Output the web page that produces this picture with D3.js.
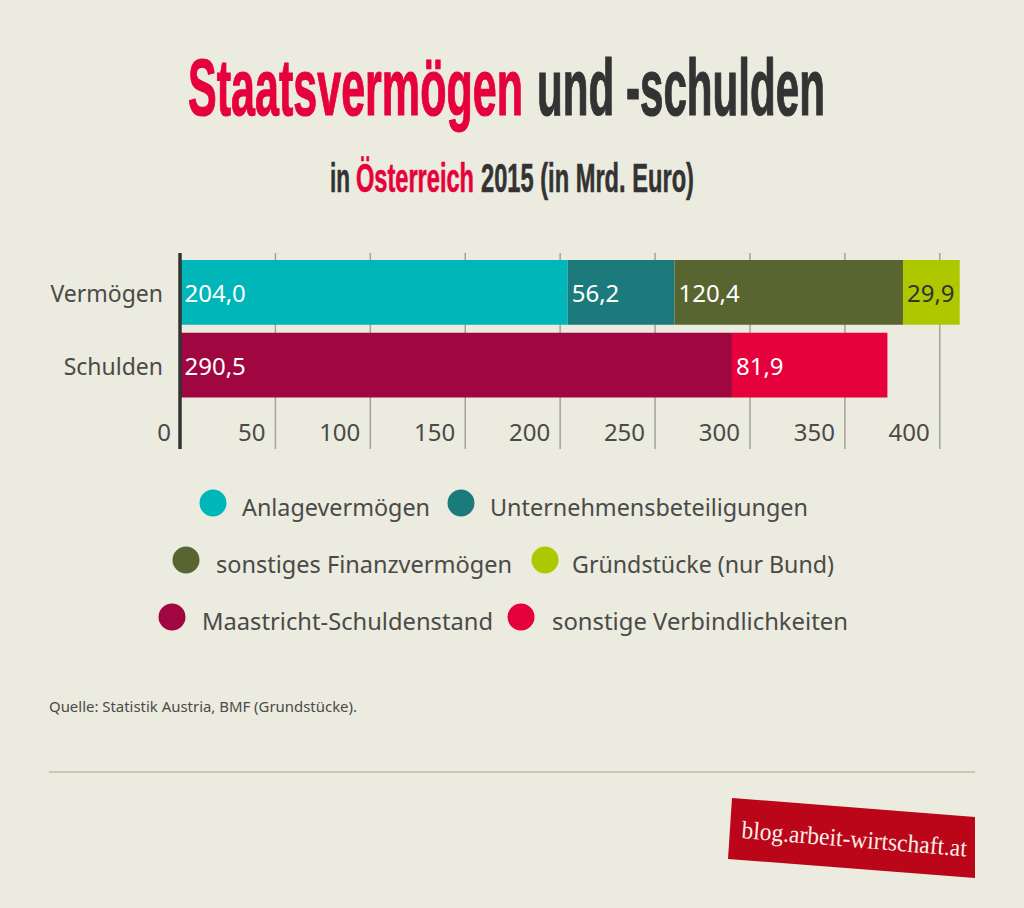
<!DOCTYPE html>
<html>
<head>
<meta charset="utf-8">
<style>
  html, body { margin: 0; padding: 0; background: #ecebdf; }
  svg { display: block; }
  text { font-family: "Noto Sans", sans-serif; }
  .head { font-family: "Liberation Sans Narrow", "Liberation Sans", sans-serif; font-weight: bold; }
</style>
<script src="https://cdn.jsdelivr.net/npm/d3@7"></script>
</head>
<body>
<svg id="chart" width="1024" height="908"></svg>
<script>
const rows = ['Vermögen', 'Schulden'];
const seriesNames = ['Anlagevermögen', 'Unternehmensbeteiligungen', 'sonstiges Finanzvermögen', 'Gründstücke (nur Bund)', 'Maastricht-Schuldenstand', 'sonstige Verbindlichkeiten'];
const seriesRows = ['Vermögen', 'Vermögen', 'Vermögen', 'Vermögen', 'Schulden', 'Schulden'];
const seriesValues = [204.0, 56.2, 120.4, 29.9, 290.5, 81.9];
const seriesColors = ['#00b6b9', '#1b7a7b', '#596530', '#aec800', '#a00640', '#e6003c'];
const valueColors = ['#fff', '#fff', '#fff', '#333', '#fff', '#fff'];
const axisTicks = [50, 100, 150, 200, 250, 300, 350, 400];

const svg = d3.select('#chart');
const red = '#e6003c', dark = '#333333', grey = '#4a4a48';

// title, squeezed horizontally to the width of the original condensed face
function head(x, y, size, width, str, color, weight) {
  const t = svg.append('text').attr('class', 'head')
    .attr('font-size', size)
    .attr('fill', color)
    .attr('stroke', color)
    .attr('stroke-width', weight)
    .text(str);
  const natural = t.node().getComputedTextLength();
  t.attr('transform', `translate(${x},${y}) scale(${width / natural},1)`);
}
head(188, 115, 80, 335, 'Staatsvermögen', red, 1.2);
head(537, 115, 80, 288, 'und -schulden', dark, 1.2);
head(330, 192, 40, 20, 'in', dark, 0.6);
head(356, 192, 40, 118, 'Österreich', red, 0.6);
head(481, 192, 40, 213, '2015 (in Mrd. Euro)', dark, 0.6);

const x = d3.scaleLinear().domain([0, 400]).range([180.5, 939.8]);
const y = d3.scaleBand().domain(rows).range([260, 397.5]).paddingInner(0.11);

// grid lines sit behind the bars
const axisG = svg.append('g')
  .attr('transform', 'translate(0,449)')
  .call(d3.axisBottom(x).tickValues(axisTicks).tickSize(-196).tickFormat(d => d).offset(0));
axisG.select('.domain').remove();
axisG.selectAll('.tick line').attr('stroke', '#a3a39a').attr('stroke-width', 1.5);
axisG.selectAll('.tick text')
  .attr('text-anchor', 'end')
  .attr('dx', -10)
  .attr('y', -8)
  .attr('dy', 0)
  .attr('font-size', 24)
  .attr('fill', grey);

// running total per row, so the segments stack
const totals = new Map(rows.map(r => [r, 0]));
const segments = seriesValues.map((v, i) => {
  const start = totals.get(seriesRows[i]);
  totals.set(seriesRows[i], start + v);
  return { row: seriesRows[i], start, end: start + v, value: v, color: seriesColors[i], textColor: valueColors[i] };
});

svg.append('g').selectAll('rect')
  .data(segments)
  .join('rect')
    .attr('x', d => x(d.start))
    .attr('y', d => y(d.row))
    .attr('width', d => x(d.end) - x(d.start))
    .attr('height', y.bandwidth())
    .attr('fill', d => d.color);

const comma = d3.format('.1f');
svg.append('g').selectAll('text')
  .data(segments)
  .join('text')
    .attr('x', d => x(d.start) + 4)
    .attr('y', d => y(d.row) + y.bandwidth() / 2 + 10)
    .attr('font-size', 24)
    .attr('fill', d => d.textColor)
    .text(d => comma(d.value).replace('.', ','));

svg.append('g').selectAll('text')
  .data(rows)
  .join('text')
    .attr('x', 163)
    .attr('y', d => y(d) + y.bandwidth() / 2 + 10)
    .attr('text-anchor', 'end')
    .attr('font-size', 23)
    .attr('fill', grey)
    .text(d => d);

// zero line and its label
svg.append('line')
  .attr('x1', x(0) - 0.5).attr('x2', x(0) - 0.5)
  .attr('y1', 253).attr('y2', 449)
  .attr('stroke', dark).attr('stroke-width', 3.5);
svg.append('text')
  .attr('x', 171).attr('y', 441)
  .attr('text-anchor', 'end')
  .attr('font-size', 24)
  .attr('fill', grey)
  .text(0);

// legend, laid out by hand in three centred lines
const legendLayout = [
  { cx: 213, tx: 242, ty: 516, w: 188 },
  { cx: 461, tx: 490, ty: 516, w: 318 },
  { cx: 186, tx: 216, ty: 573, w: 296 },
  { cx: 545, tx: 572, ty: 573, w: 262 },
  { cx: 172, tx: 202, ty: 630, w: 291 },
  { cx: 521, tx: 552, ty: 630, w: 296 }
];
const legend = svg.append('g').selectAll('g')
  .data(seriesNames)
  .join('g');
legend.append('circle')
  .attr('cx', (d, i) => legendLayout[i].cx)
  .attr('cy', (d, i) => legendLayout[i].ty - 13)
  .attr('r', 13.5)
  .attr('fill', (d, i) => seriesColors[i]);
legend.append('text')
  .attr('x', (d, i) => legendLayout[i].tx)
  .attr('y', (d, i) => legendLayout[i].ty)
  .attr('font-size', 24)
  .attr('fill', grey)
  .attr('textLength', (d, i) => legendLayout[i].w)
  .attr('lengthAdjust', 'spacingAndGlyphs')
  .text(d => d);

svg.append('text')
  .attr('x', 49).attr('y', 712)
  .attr('font-size', 14)
  .attr('fill', grey)
  .attr('textLength', 308)
  .attr('lengthAdjust', 'spacingAndGlyphs')
  .text('Quelle: Statistik Austria, BMF (Grundstücke).');

svg.append('line')
  .attr('x1', 49).attr('x2', 975)
  .attr('y1', 772).attr('y2', 772)
  .attr('stroke', '#c8c8b9').attr('stroke-width', 2);

// red badge
svg.append('path')
  .attr('d', d3.line()([[732, 798], [975, 817], [975, 878], [728, 859]]) + 'Z')
  .attr('fill', '#bb0519');
svg.append('text')
  .attr('transform', 'translate(741,838) rotate(4.7)')
  .style('font-family', '"Liberation Serif", serif')
  .attr('font-size', 25)
  .attr('fill', '#f6efe6')
  .attr('textLength', 226)
  .attr('lengthAdjust', 'spacingAndGlyphs')
  .text('blog.arbeit-wirtschaft.at');
</script>
</body>
</html>
